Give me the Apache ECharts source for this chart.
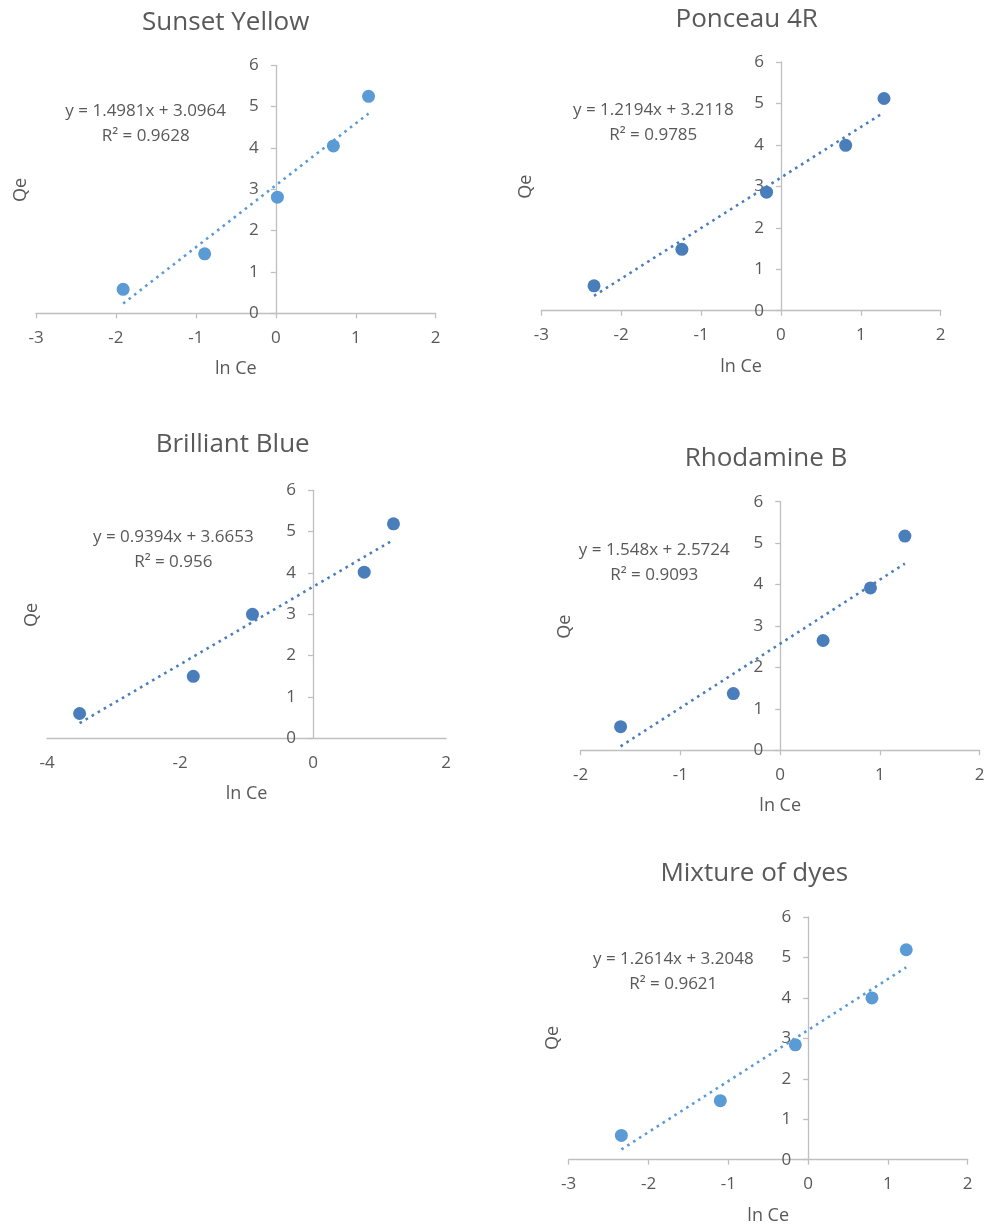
<!DOCTYPE html>
<html>
<head>
<meta charset="utf-8">
<title>Qe vs ln Ce</title>
<script src="https://cdn.jsdelivr.net/npm/echarts@6/dist/echarts.min.js"></script>
<style>
  html, body { margin: 0; padding: 0; background: #ffffff; }
  #chart { width: 995px; height: 1229px; }
</style>
</head>
<body>
<div id="chart"></div>
<script>
// Panel titles
const dyeNames = ['Sunset Yellow', 'Ponceau 4R', 'Brilliant Blue', 'Rhodamine B', 'Mixture of dyes'];

// ln Ce (x) and Qe (y) for each dye
const lnCeSunset = [-1.91, -0.89, 0.02, 0.72, 1.16];
const qeSunset   = [0.58, 1.44, 2.81, 4.05, 5.25];

const lnCePonceau = [-2.34, -1.24, -0.18, 0.81, 1.29];
const qePonceau   = [0.60, 1.48, 2.86, 3.99, 5.12];

const lnCeBlue = [-3.51, -1.80, -0.91, 0.77, 1.21];
const qeBlue   = [0.60, 1.50, 3.00, 4.02, 5.19];

const lnCeRhodamine = [-1.60, -0.47, 0.43, 0.905, 1.25];
const qeRhodamine   = [0.57, 1.37, 2.65, 3.92, 5.17];

const lnCeMixture = [-2.34, -1.10, -0.16, 0.80, 1.23];
const qeMixture   = [0.60, 1.46, 2.84, 4.00, 5.19];

// Linear fits (slope, intercept, R²) as printed on each panel
const fitSlopes     = ['1.4981', '1.2194', '0.9394', '1.548', '1.2614'];
const fitIntercepts = ['3.0964', '3.2118', '3.6653', '2.5724', '3.2048'];
const fitR2         = ['0.9628', '0.9785', '0.956', '0.9093', '0.9621'];

// x-axis ranges: [min, max, interval]
const xRanges = [[-3, 2, 1], [-3, 2, 1], [-4, 2, 2], [-2, 2, 1], [-3, 2, 1]];
const yRange = [0, 6, 1];

const allX = [lnCeSunset, lnCePonceau, lnCeBlue, lnCeRhodamine, lnCeMixture];
const allY = [qeSunset, qePonceau, qeBlue, qeRhodamine, qeMixture];

// ---- layout & style ----
const panelColors = ['#5b9bd5', '#4a7ebb', '#4a7ebb', '#4a7ebb', '#5b9bd5'];
const gridBoxes = [
  { left: 36,    top: 65.3,  width: 399.7, height: 248 },
  { left: 541.3, top: 62,    width: 399.4, height: 248.7 },
  { left: 47,    top: 490.3, width: 399,   height: 248 },
  { left: 580.7, top: 501.7, width: 399,   height: 248.6 },
  { left: 568.7, top: 917,   width: 399,   height: 242.7 }
];
const titlePos = [[225.7, 23], [746.7, 20], [232.7, 445], [766, 458.3], [754.3, 873.3]];
const eqPos = [[145.7, 111], [653.3, 110], [173.3, 536.7], [654.3, 550], [673.3, 959]];
const qeLabelPos = [[20.7, 190], [526, 186.7], [32, 615], [565, 626.7], [553.3, 1038]];
const xTicksShown = [true, true, false, true, true];

const FONT = '"Open Sans", "Noto Sans", sans-serif';
const TEXT = '#595959';
const AXIS = '#bfbfbf';

const grids = [], xAxes = [], yAxes = [], series = [], graphics = [];

for (let i = 0; i < 5; i++) {
  grids.push(Object.assign({ containLabel: false }, gridBoxes[i]));

  const [xmin, xmax, xstep] = xRanges[i];
  xAxes.push({
    type: 'value', gridIndex: i,
    min: xmin, max: xmax, interval: xstep,
    name: 'ln Ce', nameLocation: 'middle', nameGap: 47,
    nameTextStyle: { fontFamily: FONT, fontSize: 18, color: TEXT },
    axisLine: { onZero: false, lineStyle: { color: AXIS, width: 1.3 } },
    axisTick: { show: xTicksShown[i], length: 5, lineStyle: { color: AXIS, width: 1.3 } },
    axisLabel: { fontFamily: FONT, fontSize: 17, color: TEXT, margin: 16 },
    splitLine: { show: false }
  });

  // The vertical axis crosses at ln Ce = 0: shift it in from the grid's left edge
  const crossShift = (0 - xmin) / (xmax - xmin) * gridBoxes[i].width;
  yAxes.push({
    type: 'value', gridIndex: i, position: 'left', offset: -crossShift,
    min: yRange[0], max: yRange[1], interval: yRange[2],
    axisLine: { show: true, onZero: false, lineStyle: { color: AXIS, width: 1.3 } },
    axisTick: { show: true, length: 5, lineStyle: { color: AXIS, width: 1.3 } },
    axisLabel: { fontFamily: FONT, fontSize: 17, color: TEXT, margin: 17 },
    splitLine: { show: false }
  });

  const xs = allX[i], ys = allY[i];
  series.push({
    type: 'scatter', xAxisIndex: i, yAxisIndex: i,
    data: xs.map((x, k) => [x, ys[k]]),
    symbol: 'circle', symbolSize: 13,
    itemStyle: { color: panelColors[i], opacity: 1 },
    z: 2
  });

  // Trendline drawn from the fitted equation across the data range
  const m = parseFloat(fitSlopes[i]), b = parseFloat(fitIntercepts[i]);
  const x0 = Math.min(...xs), x1 = Math.max(...xs);
  series.push({
    type: 'line', xAxisIndex: i, yAxisIndex: i,
    data: [[x0, m * x0 + b], [x1, m * x1 + b]],
    showSymbol: false, symbol: 'none', silent: true,
    lineStyle: { color: panelColors[i], width: 2.6, type: [2.6, 4.4], cap: 'butt' },
    z: 3
  });

  graphics.push({
    type: 'text', x: titlePos[i][0], y: titlePos[i][1],
    style: { text: dyeNames[i], font: '26px ' + FONT, fill: TEXT, align: 'center', verticalAlign: 'middle' }
  });
  graphics.push({
    type: 'text', x: eqPos[i][0], y: eqPos[i][1],
    style: { text: 'y = ' + fitSlopes[i] + 'x + ' + fitIntercepts[i], font: '17px ' + FONT, fill: TEXT, align: 'center', verticalAlign: 'middle' }
  });
  graphics.push({
    type: 'text', x: eqPos[i][0], y: eqPos[i][1] + 25,
    style: { text: 'R² = ' + fitR2[i], font: '17px ' + FONT, fill: TEXT, align: 'center', verticalAlign: 'middle' }
  });
  graphics.push({
    type: 'text', x: qeLabelPos[i][0], y: qeLabelPos[i][1], rotation: Math.PI / 2,
    style: { text: 'Qe', font: '18px ' + FONT, fill: TEXT, align: 'center', verticalAlign: 'middle' }
  });
}

const chart = echarts.init(document.getElementById('chart'), null, { renderer: 'canvas' });
chart.setOption({
  backgroundColor: '#ffffff',
  animation: false,
  grid: grids,
  xAxis: xAxes,
  yAxis: yAxes,
  series: series,
  graphic: { elements: graphics }
});
</script>
</body>
</html>
